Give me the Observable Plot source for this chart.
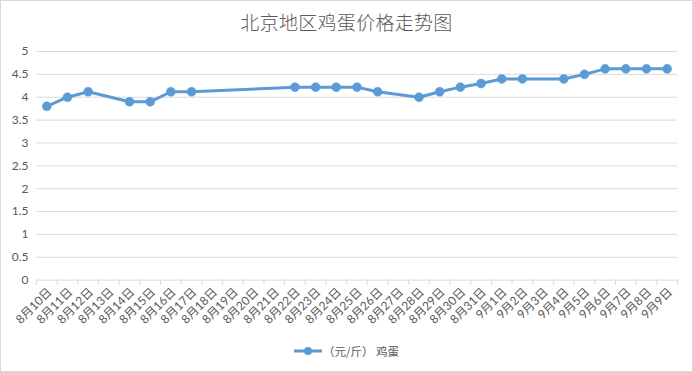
<!DOCTYPE html>
<html>
<head>
<meta charset="utf-8">
<script src="https://cdn.jsdelivr.net/npm/d3@7"></script>
<script src="https://cdn.jsdelivr.net/npm/@observablehq/plot@0.6"></script>
<style>
  html, body { margin: 0; padding: 0; background: #fff; }
  #chart { position: relative; width: 693px; height: 372px; box-sizing: border-box; border: 1px solid #d9d9d9; background: #fff; overflow: hidden;
    font-family: Lato, "Noto Sans CJK SC", sans-serif; color: #595959; }
  #title { position: absolute; left: -1px; width: 693px; top: 8px; text-align: center; font-family: "Noto Sans CJK SC", sans-serif; font-size: 19px; font-weight: 300; letter-spacing: 0.3px; color: #595959; line-height: 26px; }
  #plot { position: absolute; left: -1px; top: 39px; }
  #legend { position: absolute; left: 292px; top: 341px; display: flex; align-items: center; font-size: 11.5px; color: #595959; font-family: "Noto Sans CJK SC", sans-serif; line-height: 18px; }
  #legend svg { display: block; margin-right: 0px; }
</style>
</head>
<body>
<div id="chart">
  <div id="title"></div>
  <div id="plot"></div>
  <div id="legend"></div>
</div>
<script>
const titleText = "北京地区鸡蛋价格走势图";
const seriesName = "（元/斤） 鸡蛋";
const dates = [
  "8月10日","8月11日","8月12日","8月13日","8月14日","8月15日","8月16日","8月17日",
  "8月18日","8月19日","8月20日","8月21日","8月22日","8月23日","8月24日","8月25日",
  "8月26日","8月27日","8月28日","8月29日","8月30日","8月31日",
  "9月1日","9月2日","9月3日","9月4日","9月5日","9月6日","9月7日","9月8日","9月9日"
];
const prices = [
  3.8, 4.0, 4.12, null, 3.9, 3.9, 4.12, 4.12,
  null, null, null, null, 4.22, 4.22, 4.22, 4.22,
  4.12, null, 4.0, 4.12, 4.22, 4.3,
  4.4, 4.4, null, 4.4, 4.5, 4.62, 4.62, 4.62, 4.62
];
const yTicks = [0, 0.5, 1, 1.5, 2, 2.5, 3, 3.5, 4, 4.5, 5];

const lineColor = "#5b9bd5";
const gridColor = "#d9d9d9";
const textColor = "#595959";

const data = dates.map((d, i) => ({date: d, price: prices[i]})).filter(d => d.price != null);

const W = 693, H = 295, mL = 36, mR = 15, mT = 11, mB = 55;
const step = (W - mL - mR) / dates.length;

const chart = Plot.plot({
  width: W,
  height: H,
  marginLeft: mL,
  marginRight: mR,
  marginTop: mT,
  marginBottom: mB,
  style: {fontFamily: 'Lato, "Noto Sans CJK SC", sans-serif', fontSize: "12px", color: textColor, background: "transparent"},
  x: {type: "point", domain: dates, padding: 0.5, align: 0.5, round: false},
  y: {domain: [0, 5]},
  marks: [
    Plot.gridY(yTicks, {stroke: gridColor, strokeOpacity: 1, strokeWidth: 1}),
    Plot.axisY(yTicks, {tickSize: 0, tickPadding: 8, tickFormat: d => String(d), fill: textColor, fontSize: 12, label: null}),
    Plot.axisX(dates, {tickSize: 5, stroke: gridColor, strokeOpacity: 1, dx: -step / 2, fill: "none", tickFormat: () => "", label: null}),
    Plot.axisX([dates[dates.length - 1]], {tickSize: 5, stroke: gridColor, strokeOpacity: 1, dx: step / 2, fill: "none", tickFormat: () => "", label: null}),
    Plot.axisX(dates, {tickSize: 0, tickRotate: -45, tickPadding: 10, dx: 3, fill: textColor, fontSize: 12, label: null}),
    Plot.line(data, {x: "date", y: "price", stroke: lineColor, strokeWidth: 3, strokeLinejoin: "round", strokeLinecap: "round"}),
    Plot.dot(data, {x: "date", y: "price", r: 4.5, fill: lineColor, stroke: lineColor, strokeWidth: 0.5})
  ]
});
document.getElementById("plot").appendChild(chart);
document.getElementById("title").textContent = titleText;

const legend = document.getElementById("legend");
legend.innerHTML = `<svg width="30" height="12"><line x1="1" y1="6" x2="29" y2="6" stroke="${lineColor}" stroke-width="3"/><circle cx="15" cy="6" r="4" fill="${lineColor}"/></svg><span></span>`;
legend.querySelector("span").textContent = seriesName;
</script>
</body>
</html>
